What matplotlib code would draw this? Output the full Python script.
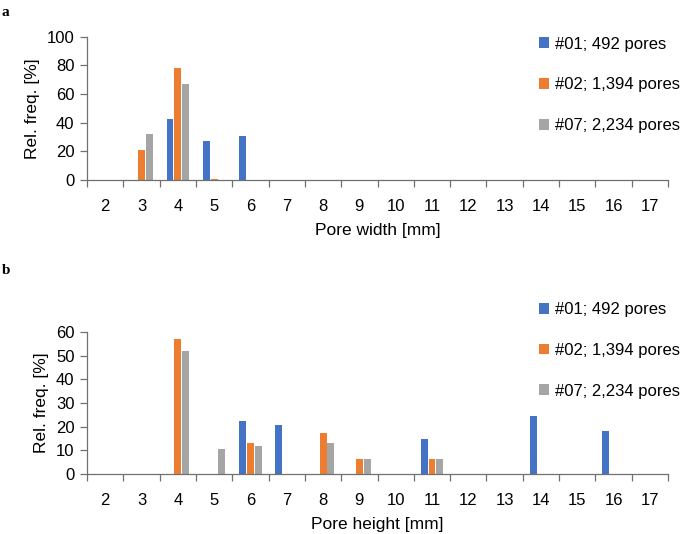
import numpy as np
import matplotlib.pyplot as plt

plt.rcParams['font.family'] = ['Liberation Sans', 'DejaVu Sans']

sizes = [str(v) for v in range(2, 18)]
series = ['#01; 492 pores', '#02; 1,394 pores', '#07; 2,234 pores']
colors = ['#4472C4', '#ED7D31', '#A5A5A5']

# relative frequency per size class (2..17 mm)
width_01 = [0, 0, 42.5, 27, 30.5, 0, 0, 0, 0, 0, 0, 0, 0, 0, 0, 0]
width_02 = [0, 21, 78.5, 1, 0, 0, 0, 0, 0, 0, 0, 0, 0, 0, 0, 0]
width_07 = [0, 32, 67, 0.3, 0, 0, 0, 0, 0, 0, 0, 0, 0, 0, 0, 0]

height_01 = [0, 0, 0, 0, 22.5, 20.5, 0, 0, 0, 14.6, 0, 0, 24.3, 0, 18.3, 0]
height_02 = [0, 0, 57, 0, 13, 0, 17.2, 6.4, 0, 6.4, 0, 0, 0, 0, 0, 0]
height_07 = [0, 0, 51.8, 10.6, 11.8, 0, 13, 6.4, 0, 6.4, 0, 0, 0, 0, 0, 0]

axis_col = '#707070'
fs = 12.5


def panel(ax, data, ymax, ystep, xlabel, leg_y):
    x = np.arange(len(sizes))
    bw = 0.19
    offs = [-0.215, 0, 0.215]
    for d, c, o, lab in zip(data, colors, offs, series):
        ax.bar(x + o, d, bw, color=c, label=lab, zorder=2)
    ax.set_xlim(-0.5, len(sizes) - 0.5)
    ax.set_ylim(0, ymax)
    ax.set_yticks(np.arange(0, ymax + 1, ystep))
    ax.set_xticks(np.arange(-0.5, len(sizes)), labels=[])
    ax.set_xticks(x, labels=sizes, minor=True)
    ax.tick_params(axis='x', which='major', length=5, width=0.9, color=axis_col)
    ax.tick_params(axis='x', which='minor', length=0, pad=14, labelsize=12)
    ax.tick_params(axis='y', length=5, width=0.9, color=axis_col, pad=4,
                   labelsize=12)
    for s in ['top', 'right']:
        ax.spines[s].set_visible(False)
    for s in ['bottom', 'left']:
        ax.spines[s].set_color(axis_col)
        ax.spines[s].set_linewidth(0.9)
    ax.set_xlabel(xlabel, fontsize=fs, labelpad=6)
    ax.set_ylabel('Rel. freq. [%]', fontsize=fs, labelpad=5)
    ax.legend(loc='upper left', bbox_to_anchor=(0.7635, leg_y), frameon=False,
              fontsize=12, handlelength=0.62, handleheight=0.62,
              handletextpad=0.35, labelspacing=1.55, borderpad=0)


fig = plt.figure(figsize=(6.88, 5.34), dpi=100)
ax1 = fig.add_axes([0.1265, 0.663, 0.8445, 0.268])
ax2 = fig.add_axes([0.1265, 0.1124, 0.8445, 0.2659])

panel(ax1, [width_01, width_02, width_07], 100, 20, 'Pore width [mm]', 1.06)
panel(ax2, [height_01, height_02, height_07], 60, 10, 'Pore height [mm]', 1.27)

fig.text(0.002, 0.988, 'a', fontsize=11, fontweight='bold',
         family='Liberation Serif', va='top')
fig.text(0.002, 0.505, 'b', fontsize=11, fontweight='bold',
         family='Liberation Serif', va='top')

fig.savefig('out.png', dpi=100)
